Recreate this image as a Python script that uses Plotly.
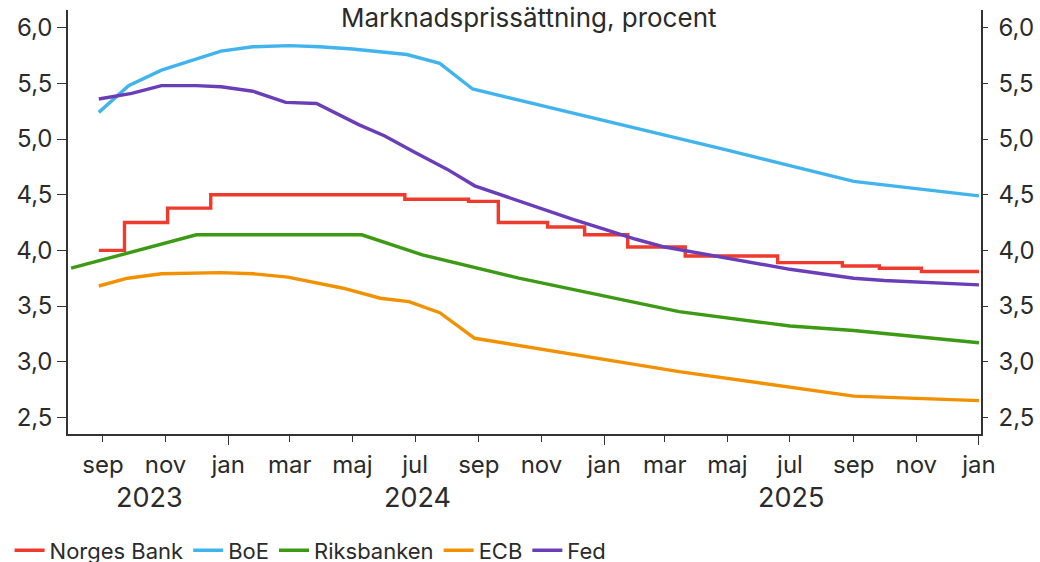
import plotly.graph_objects as go

# ---------------- data ----------------
nb_dates = ["2023-08-28", "2023-09-22", "2023-11-03", "2023-12-15", "2024-06-21",
            "2024-08-22", "2024-09-20", "2024-11-07", "2024-12-13", "2025-01-24",
            "2025-03-21", "2025-06-19", "2025-08-21", "2025-09-26", "2025-11-06",
            "2026-01-01"]
nb_vals = [4.00, 4.25, 4.38, 4.50, 4.46, 4.44, 4.25, 4.21, 4.14, 4.03,
           3.95, 3.89, 3.86, 3.84, 3.81, 3.81]

boe_dates = ["2023-08-28", "2023-09-26", "2023-10-28", "2023-12-25", "2024-01-25",
             "2024-03-01", "2024-03-30", "2024-05-01", "2024-06-23", "2024-07-25",
             "2024-08-26", "2024-10-10", "2025-01-01", "2025-05-01", "2025-09-01",
             "2026-01-01"]
boe_vals = [5.24, 5.48, 5.62, 5.79, 5.83, 5.84, 5.83, 5.81, 5.76, 5.68,
            5.45, 5.35, 5.17, 4.90, 4.62, 4.49]

rb_dates = ["2023-08-01", "2023-12-01", "2024-05-10", "2024-07-08", "2024-10-10",
            "2025-03-15", "2025-07-01", "2025-09-01", "2026-01-01"]
rb_vals = [3.84, 4.14, 4.14, 3.96, 3.75, 3.45, 3.32, 3.28, 3.17]

ecb_dates = ["2023-08-28", "2023-09-25", "2023-10-28", "2023-12-25", "2024-01-25",
             "2024-02-28", "2024-04-22", "2024-05-28", "2024-06-25", "2024-07-25",
             "2024-08-28", "2025-03-15", "2025-09-01", "2026-01-01"]
ecb_vals = [3.68, 3.75, 3.79, 3.80, 3.79, 3.76, 3.66, 3.57, 3.54, 3.44,
            3.21, 2.91, 2.69, 2.65]

fed_dates = ["2023-08-28", "2023-09-29", "2023-10-28", "2023-12-01", "2023-12-25",
             "2024-01-25", "2024-02-26", "2024-03-27", "2024-05-07", "2024-06-01",
             "2024-07-01", "2024-08-01", "2024-08-28", "2024-10-01", "2024-11-01",
             "2024-12-01", "2025-01-01", "2025-02-01", "2025-03-01", "2025-04-01",
             "2025-05-01", "2025-06-01", "2025-07-01", "2025-08-01", "2025-09-01",
             "2025-10-01", "2025-11-01", "2025-12-01", "2026-01-01"]
fed_vals = [5.36, 5.41, 5.48, 5.48, 5.47, 5.43, 5.33, 5.32, 5.13, 5.03,
            4.88, 4.73, 4.58, 4.47, 4.37, 4.28, 4.19, 4.10, 4.03, 3.98,
            3.93, 3.88, 3.83, 3.79, 3.75, 3.73, 3.715, 3.70, 3.69]

month_ticks = ["2023-09-01", "2023-11-01", "2024-01-01", "2024-03-01", "2024-05-01",
               "2024-07-01", "2024-09-01", "2024-11-01", "2025-01-01", "2025-03-01",
               "2025-05-01", "2025-07-01", "2025-09-01", "2025-11-01", "2026-01-01"]
month_labels = ["sep", "nov", "jan", "mar", "maj", "jul", "sep", "nov", "jan",
                "mar", "maj", "jul", "sep", "nov", "jan"]
year_ticks = ["2024-01-01", "2025-01-01", "2026-01-01"]
year_labels = ["2023", "2024", "2025"]
year_pos = ["2023-10-16", "2024-07-03", "2025-07-02"]
y_ticks = [2.5, 3.0, 3.5, 4.0, 4.5, 5.0, 5.5, 6.0]

x_range = ["2023-07-29", "2026-01-03"]
y_range = [2.35, 6.16]

# ---------------- figure ----------------
FONT = "Inter"
TXT = "#2b2b2b"
AX = "#333333"

fig = go.Figure()
series = [
    ("Norges Bank", nb_dates, nb_vals, "#EE3B2E", "hv"),
    ("BoE", boe_dates, boe_vals, "#41B4EE", "linear"),
    ("Riksbanken", rb_dates, rb_vals, "#3C9A14", "linear"),
    ("ECB", ecb_dates, ecb_vals, "#F29100", "linear"),
    ("Fed", fed_dates, fed_vals, "#6A3EB8", "linear"),
]
for name, xs, ys, col, shape in series:
    fig.add_trace(go.Scatter(x=xs, y=ys, name=name, mode="lines",
                             line=dict(color=col, width=3.4, shape=shape)))

# invisible trace on secondary axes (right y axis, long January ticks)
fig.add_trace(go.Scatter(x=[x_range[0]], y=[y_range[0]], xaxis="x2", yaxis="y2",
                         mode="markers", marker=dict(opacity=0), showlegend=False,
                         hoverinfo="skip"))

fig.update_layout(
    width=1040, height=582,
    margin=dict(l=59, r=59, t=10, b=143),
    paper_bgcolor="white", plot_bgcolor="white",
    separators=", ",
    font=dict(family=FONT, size=20, color=TXT),
    showlegend=True,
    legend=dict(orientation="h", x=-0.064, xanchor="left", y=-0.2746, yanchor="middle",
                font=dict(family=FONT, size=22, color=TXT), itemwidth=30,
                tracegroupgap=0, bgcolor="rgba(0,0,0,0)"),
    xaxis=dict(type="date", range=x_range, tickvals=month_ticks, ticktext=month_labels,
               ticks="outside", ticklen=6, tickwidth=1.3, tickcolor=AX,
               showline=True, linecolor=AX, linewidth=1.5, showgrid=False,
               zeroline=False, automargin=False,
               tickfont=dict(family=FONT, size=24, color=TXT),
               ticklabelstandoff=2),
    xaxis2=dict(type="date", range=x_range, overlaying="x", matches="x",
                tickvals=year_ticks, showticklabels=False, ticks="outside",
                ticklen=10, tickwidth=1.3, tickcolor=AX, showline=False,
                showgrid=False, zeroline=False, side="bottom", automargin=False),
    yaxis=dict(range=y_range, tickvals=y_ticks, tickformat=".1f", ticks="outside",
               ticklen=9, tickwidth=1.3, tickcolor=AX, showline=True, linecolor=AX,
               linewidth=1.5, showgrid=False, zeroline=False, automargin=False,
               tickfont=dict(family=FONT, size=24, color=TXT),
               ticklabelstandoff=0),
    yaxis2=dict(range=y_range, overlaying="y", side="right", tickvals=y_ticks,
                tickformat=".1f", ticks="outside", ticklen=5, tickwidth=1.3,
                tickcolor=AX, showline=True, linecolor=AX, linewidth=1.5,
                showgrid=False, zeroline=False, automargin=False,
                tickfont=dict(family=FONT, size=24, color=TXT),
                ticklabelstandoff=6),
)

for lab, pos in zip(year_labels, year_pos):
    fig.add_annotation(x=pos, y=-0.149, xref="x", yref="paper", text=lab,
                       showarrow=False, yanchor="middle",
                       font=dict(family=FONT, size=27, color=TXT))

fig.add_annotation(x=0.505, y=1.0233, xref="paper", yref="paper",
                   text="Marknadsprissättning, procent", showarrow=False,
                   yanchor="top", font=dict(family=FONT, size=26, color=TXT))

fig.write_html(
    "out.html",
    config={"displayModeBar": False},
    post_script="document.body.style.margin='0px';"
                "document.documentElement.style.overflow='hidden';",
)
